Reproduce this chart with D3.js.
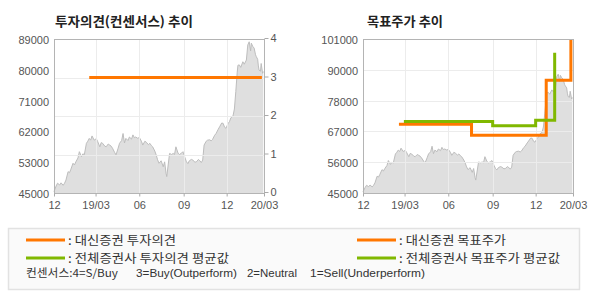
<!DOCTYPE html>
<html>
<head>
<meta charset="utf-8">
<script src="https://cdn.jsdelivr.net/npm/d3@7"></script>
<style>
    body { margin: 0; background: #fff; }
    svg { font-family: "Noto Sans CJK KR", sans-serif; }
    .title { font-size: 13px; font-weight: bold; fill: #222; }
    .axis text { font-family: "Liberation Sans", Arial, sans-serif; font-size: 11px; fill: #555; }
    .axis line { stroke: #aaa; }
    .axis path { display: none; }
    .grid line { stroke: #ececec; stroke-width: 1; }
    .legend text { font-size: 12px; fill: #333; }
    .legend .note { font-family: "Liberation Sans", Arial, sans-serif; font-size: 11px; fill: #333; }
</style>
</head>
<body>
<div id="chart"></div>
<script>

// x = trading day counted from early Dec 2018
const priceDay = [0,3,5,8,10,13,15,17,20,22,24,27,29,31,34,36,39,41,43,46,48,50,52,54,57,60,62,65,67,69,
    72,74,77,79,81,83,86,88,91,93,96,98,100,102,105,107,110,112,114,116,119,121,124,126,129,131,134,136,138,140,
    143,145,147,149,152,155,157,159,160,162,164,167,169,171,173,176,178,181,183,186,188,190,192,195,197,200,202,205,207,209,
    211,213,216,218,221,223,225,228,230,233,235,238,240,242,244,247,249,251,254,256,258,260,261,263,265,268,270,273,275,277,
    279,280,282,284,286,287,289,290,291,293,294,296,297];
const priceClose = [45400,47000,47800,47300,47900,47200,47800,48700,51100,50800,51800,53500,53000,53900,55000,56800,55400,56200,55900,59200,
    59800,60600,60100,61300,60100,60500,59700,58200,59400,59200,58400,58200,59000,58700,58400,57800,56600,55900,57800,59200,
    60000,62000,59300,60600,60000,61000,60400,61600,60800,61000,60600,60900,59800,58700,59800,59500,58800,59200,58600,58200,
    57000,55900,54500,53500,54200,52500,53900,50600,49700,53000,56300,56000,56300,56000,58200,56400,56000,56400,56800,55000,
    53900,53400,54200,54600,54400,53800,53900,54600,54200,53700,54400,58700,59800,60100,60200,59900,60300,61500,62000,63200,
    63900,65000,64900,63800,63500,64800,65400,66500,67000,69000,74000,79500,81500,81600,80900,82500,81800,83000,87300,88200,
    85600,87800,86900,86400,84500,84000,83200,81300,80100,79800,82000,79200,79700];

const lastDay = 298;
const monthTickDay = [0, 59, 121, 184, 245, 298];
const monthTickLabel = ['12', '19/03', '06', '09', '12', '20/03'];

// 투자의견 (consensus score 0-4)
const opinionDay = [50, 295];
const opinionScore = [3, 3];
const opinionTicks = [0, 1, 2, 3, 4];

// 목표주가, drawn as steps
const daishinTargetDay = [51, 154, 260, 295];
const daishinTarget = [70000, 66000, 86000, 100600];
const avgTargetDay = [58, 184, 245, 272];
const avgTarget = [71000, 69500, 71500, 96000];

const leftPriceLabels = ['45000', '53000', '62000', '71000', '80000', '89000'];
const rightPriceLabels = ['45000', '56000', '67000', '78000', '90000', '101000'];

const orange = '#ff7700';
const green = '#80b800';

let svg = d3.select('#chart').append('svg')
    .attr('width', 590)
    .attr('height', 300);


class TrendVis {

    constructor(svg, config) {
        this.svg = svg;
        this.cfg = config;
        this.initVis();
    }

    initVis() {
        let vis = this;
        let c = vis.cfg;

        vis.x = d3.scaleLinear().domain([0, lastDay]).range([c.left, c.right]);
        vis.y = d3.scaleLinear().domain(c.priceDomain).range([c.bottom, c.top]);

        vis.g = vis.svg.append('g');

        vis.g.append('text')
            .attr('class', 'title')
            .attr('x', c.titleX)
            .attr('y', 26)
            .attr('textLength', c.titleWidth)
            .attr('lengthAdjust', 'spacingAndGlyphs')
            .text(c.title);

        // price area
        let pts = priceDay.map((d, i) => [d, priceClose[i]]);
        vis.g.append('path')
            .datum(pts)
            .attr('fill', '#dfdfdf')
            .attr('d', d3.area()
                .x(d => vis.x(d[0]))
                .y0(c.bottom)
                .y1(d => vis.y(d[1])));
        vis.g.append('path')
            .datum(pts)
            .attr('fill', 'none')
            .attr('stroke', '#bdbdbd')
            .attr('stroke-width', 1)
            .attr('d', d3.line()
                .x(d => vis.x(d[0]))
                .y(d => vis.y(d[1])));

        // gridlines
        let grid = vis.g.append('g').attr('class', 'grid');
        grid.selectAll('.vgrid')
            .data(monthTickDay.slice(1, -1))
            .enter().append('line')
            .attr('x1', d => Math.round(vis.x(d)) + 0.5)
            .attr('x2', d => Math.round(vis.x(d)) + 0.5)
            .attr('y1', c.top)
            .attr('y2', c.bottom);
        grid.selectAll('.hgrid')
            .data(c.gridY)
            .enter().append('line')
            .attr('x1', c.left)
            .attr('x2', c.right)
            .attr('y1', d => Math.round(d) + 0.5)
            .attr('y2', d => Math.round(d) + 0.5);

        // frame
        vis.g.append('rect')
            .attr('x', c.left + 0.5)
            .attr('y', c.top + 0.5)
            .attr('width', c.right - c.left)
            .attr('height', c.bottom - c.top)
            .attr('fill', 'none')
            .attr('stroke', '#b4b4b4');

        // axes
        let labels = c.priceLabels;
        let priceTicks = labels.map((d, i) => c.priceDomain[0] + i * (c.priceDomain[1] - c.priceDomain[0]) / (labels.length - 1));
        vis.g.append('g')
            .attr('class', 'axis y-axis')
            .attr('transform', `translate(${c.left}, 1)`)
            .call(d3.axisLeft(vis.y)
                .tickValues(priceTicks)
                .tickFormat((d, i) => labels[i])
                .tickSize(0)
                .tickPadding(5));

        vis.g.append('g')
            .attr('class', 'axis x-axis')
            .attr('transform', `translate(0, ${c.bottom + 0.5})`)
            .call(d3.axisBottom(vis.x)
                .tickValues(monthTickDay)
                .tickFormat((d, i) => monthTickLabel[i])
                .tickSize(3)
                .tickPadding(5));
    }

    stepLine(days, values, color, yScale) {
        let vis = this;
        vis.g.append('path')
            .datum(days.map((d, i) => [d, values[i]]))
            .attr('fill', 'none')
            .attr('stroke', color)
            .attr('stroke-width', 3)
            .attr('d', d3.line()
                .curve(d3.curveStepAfter)
                .x(d => vis.x(d[0]))
                .y(d => yScale(d[1])));
    }
}


// left: 투자의견 chart
let opinionY = d3.scaleLinear().domain([0, 4]).range([193, 39]);
let leftVis = new TrendVis(svg, {
    left: 54, right: 264, top: 39, bottom: 193,
    priceDomain: [45000, 89000],
    priceLabels: leftPriceLabels,
    gridY: [1, 2, 3].map(d => opinionY(d)),
    title: '투자의견(컨센서스) 추이', titleX: 55, titleWidth: 138
});
leftVis.stepLine(opinionDay, opinionScore, orange, opinionY);
leftVis.g.append('g')
    .attr('class', 'axis y-axis-right')
    .attr('transform', 'translate(264.5, -1)')
    .call(d3.axisRight(opinionY)
        .tickValues(opinionTicks)
        .tickFormat(d3.format('d'))
        .tickSize(4)
        .tickPadding(2));

// right: 목표주가 chart
let rightY = d3.scaleLinear().domain([45000, 101000]).range([193, 39]);
let rightVis = new TrendVis(svg, {
    left: 363, right: 573, top: 39, bottom: 193,
    priceDomain: [45000, 101000],
    priceLabels: rightPriceLabels,
    gridY: [1, 2, 3, 4].map(i => rightY(45000 + i * 11200)),
    title: '목표주가 추이', titleX: 367, titleWidth: 76
});
rightVis.stepLine(daishinTargetDay, daishinTarget, orange, rightVis.y);
rightVis.stepLine(avgTargetDay, avgTarget, green, rightVis.y);


// legend
const legendItems = [
    {label: ': 대신증권  투자의견', color: orange, x: 26, y: 240, w: 108},
    {label: ': 전체증권사 투자의견 평균값', color: green, x: 26, y: 258, w: 161},
    {label: ': 대신증권  목표주가', color: orange, x: 357, y: 240, w: 107},
    {label: ': 전체증권사 목표주가 평균값', color: green, x: 357, y: 258, w: 161}
];
const noteParts = [
    {text: '컨센서스:4=S/Buy', x: 26, w: 92},
    {text: '3=Buy(Outperform)', x: 136, w: 101},
    {text: '2=Neutral', x: 247, w: 50},
    {text: '1=Sell(Underperform)', x: 310, w: 115}
];

let legend = svg.append('g').attr('class', 'legend');
legend.append('rect')
    .attr('x', 8.5).attr('y', 228.5)
    .attr('width', 571).attr('height', 61)
    .attr('fill', '#fafafa')
    .attr('stroke', '#e2e2e2')
    .attr('stroke-width', 1.5);

let items = legend.selectAll('.item')
    .data(legendItems)
    .enter().append('g')
    .attr('class', 'item');
items.append('line')
    .attr('x1', d => d.x).attr('x2', d => d.x + 39)
    .attr('y1', d => d.y).attr('y2', d => d.y)
    .attr('stroke', d => d.color)
    .attr('stroke-width', 3);
items.append('text')
    .attr('x', d => d.x + 42)
    .attr('y', d => d.y + 4.5)
    .attr('textLength', d => d.w)
    .attr('lengthAdjust', 'spacingAndGlyphs')
    .text(d => d.label);

legend.selectAll('.note')
    .data(noteParts)
    .enter().append('text')
    .attr('class', d => d.text.startsWith('컨') ? '' : 'note')
    .attr('x', d => d.x)
    .attr('y', 277)
    .attr('textLength', d => d.w)
    .attr('lengthAdjust', 'spacingAndGlyphs')
    .style('font-size', '11px')
    .text(d => d.text);

</script>
</body>
</html>
